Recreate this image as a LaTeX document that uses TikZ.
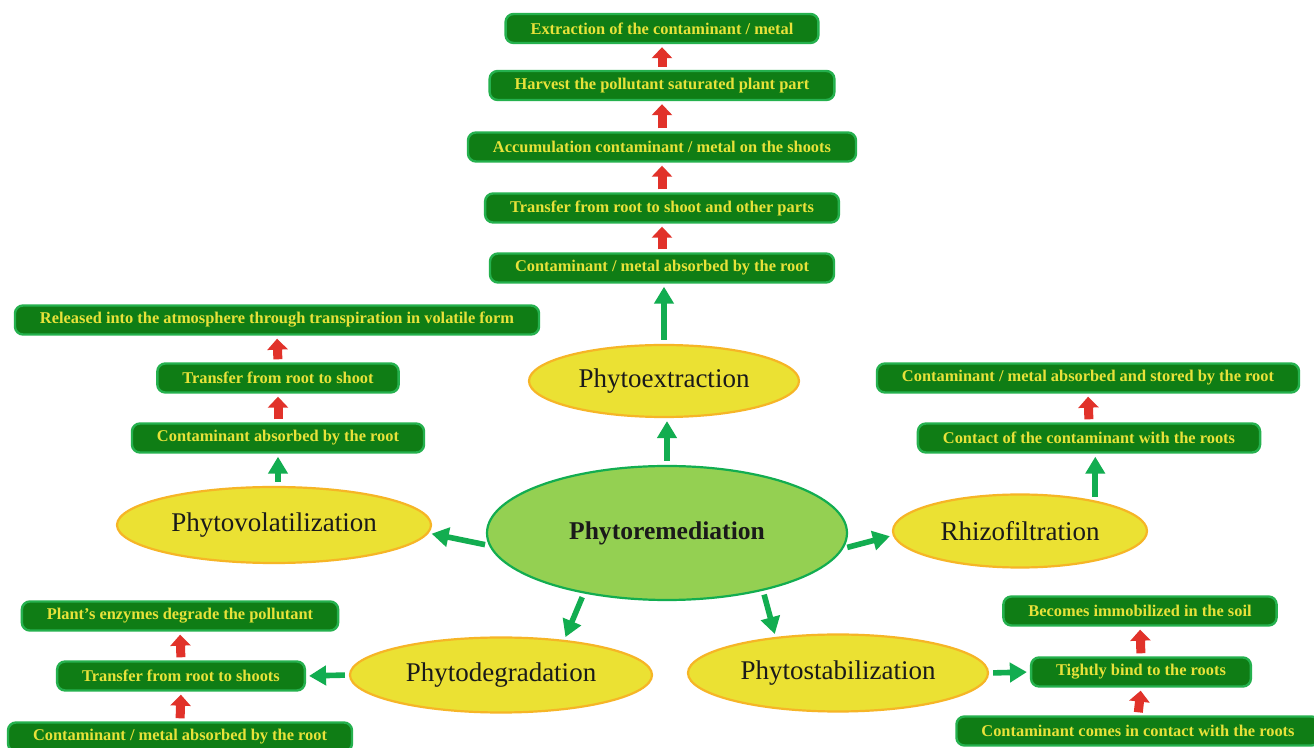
\documentclass[tikz,border=0pt]{standalone}
\usepackage{fontspec}
\setmainfont{Liberation Serif}
\usetikzlibrary{arrows.meta,shapes.geometric}

\definecolor{boxg}{HTML}{0F7D15}
\definecolor{boxline}{HTML}{25B14E}
\definecolor{boxtxt}{HTML}{E8E23A}
\definecolor{methy}{HTML}{EBE133}
\definecolor{methline}{HTML}{F6B526}
\definecolor{coreg}{HTML}{94D052}
\definecolor{arrg}{HTML}{12AD50}
\definecolor{arrr}{HTML}{E1322A}
\definecolor{ink}{HTML}{1A1A1A}

\begin{document}
\begin{tikzpicture}[x=0.5pt,y=-0.5pt,
 box/.style={draw=boxline,line width=1.2pt,rounded corners=4pt,fill=boxg,text=boxtxt,
  font=\fontsize{8.2}{9}\selectfont\bfseries,minimum height=14.5pt,inner xsep=12.5pt,inner ysep=0pt},
 meth/.style={ellipse,draw=methline,line width=1.1pt,fill=methy,text=ink,
  font=\fontsize{13.5}{15}\selectfont,inner sep=0pt},
 core/.style={ellipse,draw=arrg,line width=1.1pt,fill=coreg,text=ink,
  font=\fontsize{12.8}{14}\selectfont\bfseries,inner sep=0pt,minimum width=180pt,minimum height=67pt},
 up/.style={draw=arrr,line width=4.5pt,-{Triangle[width=10pt,length=5.5pt]},shorten <=1.5pt,shorten >=1.5pt},
 go/.style={draw=arrg,line width=2.8pt,-{Triangle[width=9.5pt,length=8.5pt]},shorten <=2pt,shorten >=1.5pt}]
\useasboundingbox (0,0) rectangle (1314,748);
\fill[white] (0,0) rectangle (1314,748);
% centre
\node[core] (ph) at (667,533) {Phytoremediation};
% methods
\node[meth,minimum width=135pt,minimum height=36pt] (ex) at (664,381) {Phytoextraction};
\node[meth,minimum width=157pt,minimum height=38pt] (vo) at (274,525) {Phytovolatilization};
\node[meth,minimum width=127pt,minimum height=36.5pt] (rh) at (1020,531) {Rhizofiltration};
\node[meth,minimum width=151pt,minimum height=37.5pt] (dg) at (501,675) {Phytodegradation};
\node[meth,minimum width=150pt,minimum height=38.5pt] (st) at (838,673) {Phytostabilization};
% phytoextraction steps
\node[box] (ex1) at (662,28.5) {Extraction of the contaminant / metal};
\node[box] (ex2) at (662,85.5) {Harvest the pollutant saturated plant part};
\node[box] (ex3) at (662,147) {Accumulation contaminant / metal on the shoots};
\node[box] (ex4) at (662,208) {Transfer from root to shoot and other parts};
\node[box] (ex5) at (662,268) {Contaminant / metal absorbed by the root};
% phytovolatilization steps
\node[box] (vo1) at (277,320) {Released into the atmosphere through transpiration in volatile form};
\node[box] (vo2) at (278,378) {Transfer from root to shoot};
\node[box] (vo3) at (278,438) {Contaminant absorbed by the root};
% rhizofiltration steps
\node[box] (rh1) at (1088,378) {Contaminant / metal absorbed and stored by the root};
\node[box] (rh2) at (1089,438) {Contact of the contaminant with the roots};
% phytodegradation steps
\node[box] (dg1) at (180,616) {Plant’s enzymes degrade the pollutant};
\node[box] (dg2) at (181,676) {Transfer from root to shoots};
\node[box] (dg3) at (180,737) {Contaminant / metal absorbed by the root};
% phytostabilization steps
\node[box] (st1) at (1140,611) {Becomes immobilized in the soil};
\node[box] (st2) at (1141,672) {Tightly bind to the roots};
\node[box] (st3) at (1138,731) {Contaminant comes in contact with the roots};

\draw[go] (ph.north) -- (ph.north |- ex.south);
\draw[go] (ph.184) -- (vo.-3);
\draw[go] (ph.-5) -- (rh.182);
\draw[go] (ph.216) -- (dg.29);
\draw[go] (ph.-31) -- (st.150);
\draw[go] (ex.north) -- (ex.north |- ex5.south);
\draw[go] (vo.north -| vo3) -- (vo3.south);
\draw[go] (rh.22) -- (rh.22 |- rh2.south);
\draw[go] (dg.west) -- (dg2.east);
\draw[go] (st.east) -- (st2.west);
\foreach \a/\b in {ex5/ex4,ex4/ex3,ex3/ex2,ex2/ex1,vo3/vo2,vo2/vo1,rh2/rh1,dg3/dg2,dg2/dg1,st3/st2,st2/st1}
 \draw[up] (\a.north) -- (\b.south);
\end{tikzpicture}
\end{document}
